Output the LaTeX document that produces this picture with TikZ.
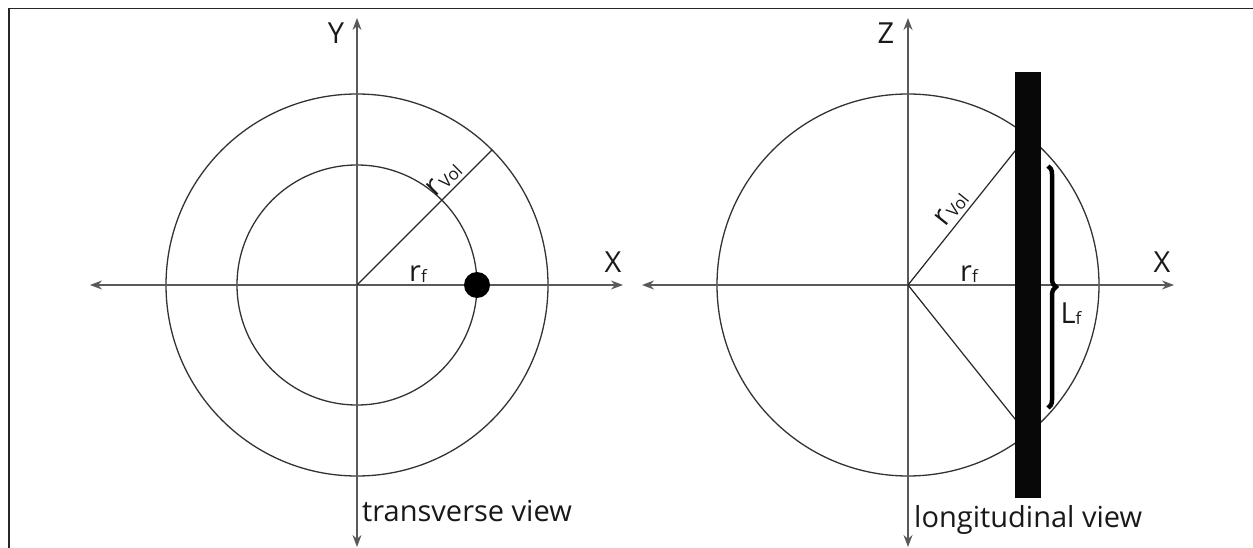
\documentclass[tikz,border=0pt]{standalone}
\usepackage{fontspec}
\setmainfont{Open Sans}
\usetikzlibrary{arrows.meta,decorations.pathreplacing}
\newcommand{\lowsub}[2]{\raisebox{#1}{\fontsize{17}{17}\selectfont #2}}
\begin{document}
\begin{tikzpicture}[x=1pt,y=-1pt,
  axis/.style={draw=black!65,line width=1.3pt,{Stealth[length=12pt,width=9pt]}-{Stealth[length=12pt,width=9pt]}},
  circ/.style={draw=black!80,line width=1.3pt},
  rad/.style={draw=black!85,line width=1.2pt},
  lbl/.style={inner sep=0pt,font=\fontsize{29}{33}\selectfont,text=black!90}]
\useasboundingbox (0,0) rectangle (1253,548);
\draw[line width=1.6pt,black!85] (9,548) -- (9,8.5) -- (1253,8.5);
% ---------- transverse view ----------
\coordinate (c1) at (357,285);
\coordinate (y1t) at (357,18);
\coordinate (y1b) at (357,547);
\coordinate (x1l) at (90,285);
\coordinate (x1r) at (623,285);
\coordinate (v1) at (492,150);
\draw[circ] (c1) circle[radius=191];
\draw[circ] (c1) circle[radius=120];
\draw[axis] (y1b) -- (y1t);
\draw[axis] (x1l) -- (x1r);
\draw[rad] (c1) -- (v1);
\node[circle,fill=black,minimum size=26pt,inner sep=0pt] (dot) at (477,285) {};
\node[lbl] (ylab) at (336,33) {Y};
\node[lbl] (xlab1) at (613,262) {X};
\node[lbl,anchor=base] (rf1) at (418,281) {r\lowsub{-1pt}{f}};
\node[lbl,rotate=45,anchor=base] (rv1) at (449,184) {r\kern1pt\lowsub{-2pt}{Vol}};
\node[lbl,anchor=base west] (tv) at (362,521) {transverse view};
% ---------- longitudinal view ----------
\coordinate (c2) at (908,285);
\coordinate (z2t) at (908,18);
\coordinate (z2b) at (908,547);
\coordinate (x2l) at (642,285);
\coordinate (x2r) at (1174,285);
\coordinate (v2a) at (1027,136);
\coordinate (v2b) at (1027,434);
\draw[circ] (c2) circle[radius=191];
\draw[axis] (z2b) -- (z2t);
\draw[axis] (x2l) -- (x2r);
\draw[rad] (c2) -- (v2a);
\draw[rad] (c2) -- (v2b);
\node[fill=black!97,draw=black!97,inner sep=0pt,minimum width=25pt,minimum height=425pt] (bar) at (1027.5,284.5) {};
\coordinate (bt) at (1048,166);
\coordinate (bb) at (1048,408);
\draw[line width=4.5pt,black,decorate,decoration={brace,amplitude=8pt}] (bt) -- (bb);
\node[lbl] (zlab) at (886,33) {Z};
\node[lbl] (xlab2) at (1162,262) {X};
\node[lbl,anchor=base] (rf2) at (969,281) {r\lowsub{-1pt}{f}};
\node[lbl,rotate=51.4,anchor=base] (rv2) at (957,213) {r\kern1pt\lowsub{-2pt}{Vol}};
\node[lbl,anchor=base] (lf) at (1071,323) {L\lowsub{-1pt}{f}};
\node[lbl,anchor=base west] (lv) at (914,527) {longitudinal view};
\end{tikzpicture}
\end{document}
